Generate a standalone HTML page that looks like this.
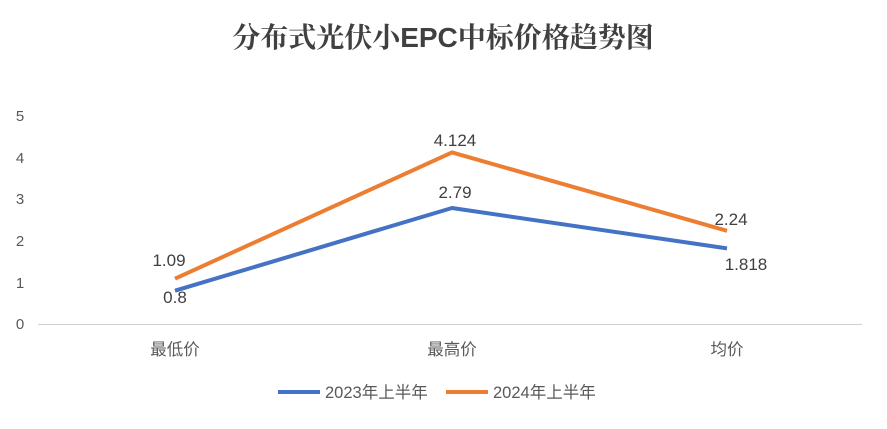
<!DOCTYPE html>
<html><head><meta charset="utf-8"><style>
body{margin:0;background:#fff;}
svg text{font-family:"Liberation Sans","Noto Sans CJK SC",sans-serif;}
</style></head><body>
<svg width="887" height="424" viewBox="0 0 887 424" xmlns="http://www.w3.org/2000/svg">
<rect width="887" height="424" fill="#fff"/>
<text x="443" y="47" text-anchor="middle" font-size="28" font-weight="bold" fill="#404040" style="font-family:'Liberation Sans','Noto Serif CJK SC',serif">分布式光伏小EPC中标价格趋势图</text>
<g font-size="15" fill="#595959" text-anchor="middle">
<text x="20" y="329">0</text><text x="20" y="288">1</text><text x="20" y="246">2</text>
<text x="20" y="204">3</text><text x="20" y="163">4</text><text x="20" y="121">5</text>
</g>
<line x1="38" y1="324.5" x2="862" y2="324.5" stroke="#d0d0d0" stroke-width="1"/>
<g font-size="16.5" fill="#595959" text-anchor="middle">
<text x="175" y="355">最低价</text><text x="452" y="355">最高价</text><text x="727" y="355">均价</text>
</g>
<polyline points="175,290.7 452,208 727,248.4" fill="none" stroke="#4472c4" stroke-width="4" stroke-linejoin="round"/>
<polyline points="175,278.7 452,152.4 727,230.8" fill="none" stroke="#ed7d31" stroke-width="4" stroke-linejoin="round"/>
<g font-size="17" fill="#404040" text-anchor="middle">
<text x="169" y="266">1.09</text><text x="455" y="146">4.124</text><text x="731" y="225">2.24</text>
<text x="175" y="303">0.8</text><text x="746" y="270">1.818</text><text x="455" y="198">2.79</text>
</g>
<line x1="278" y1="392" x2="320" y2="392" stroke="#4472c4" stroke-width="4"/>
<text x="325" y="398" font-size="16.5" fill="#595959">2023年上半年</text>
<line x1="446" y1="392" x2="488" y2="392" stroke="#ed7d31" stroke-width="4"/>
<text x="493" y="398" font-size="16.5" fill="#595959">2024年上半年</text>
</svg>
</body></html>
